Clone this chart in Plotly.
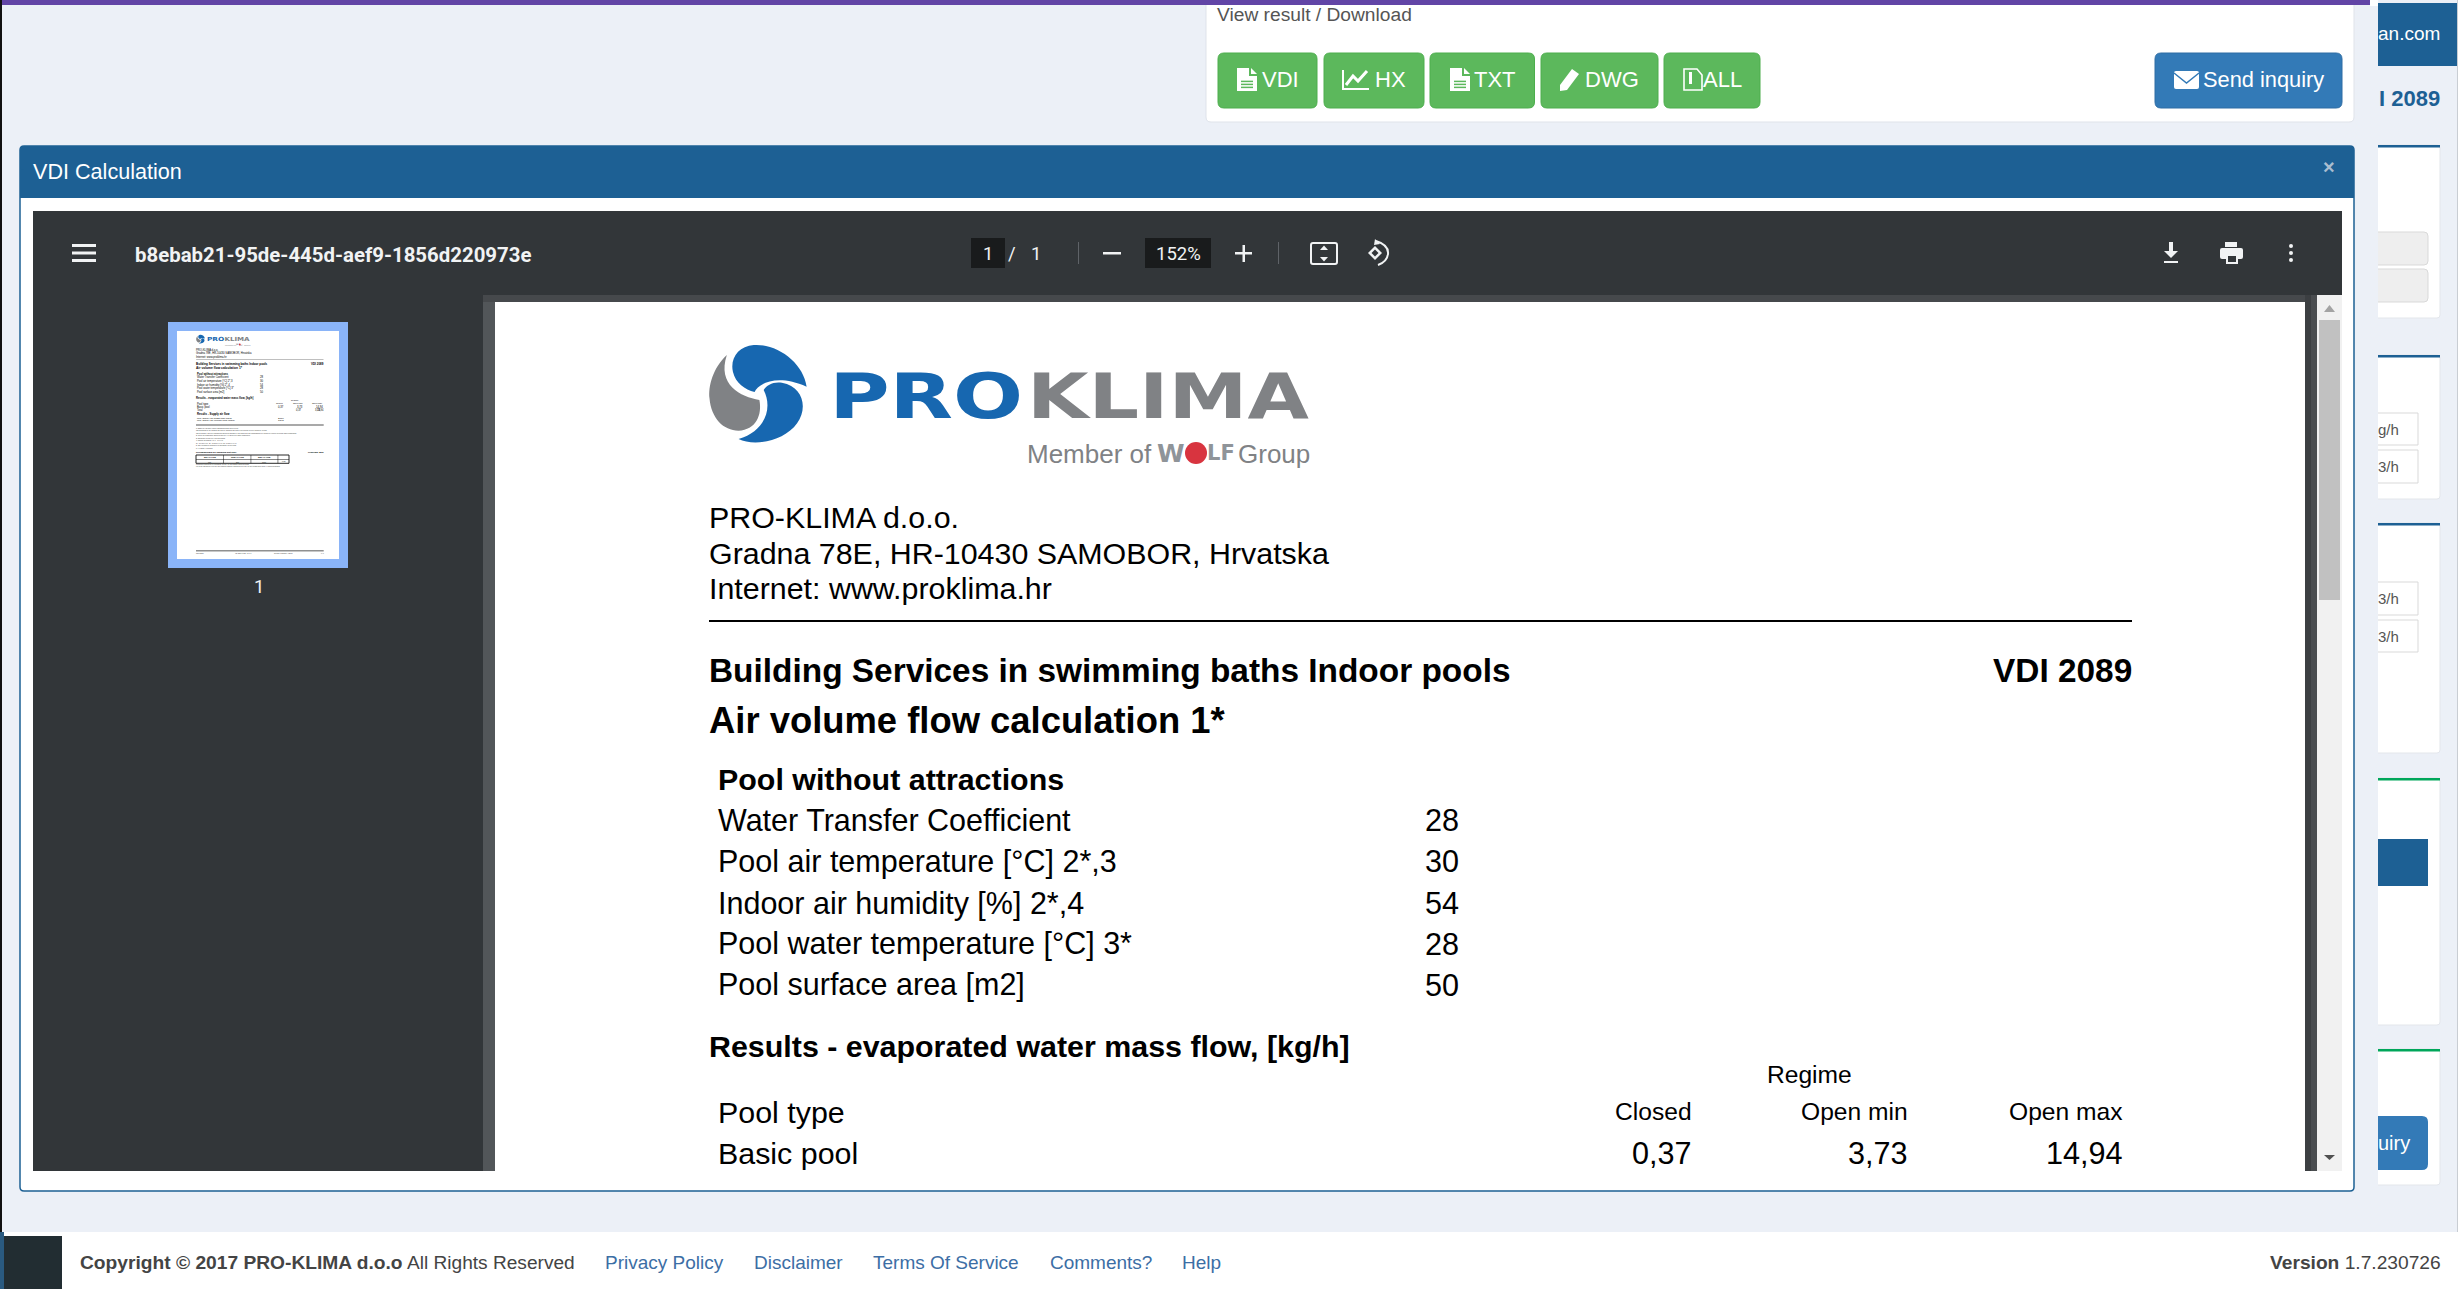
import plotly.graph_objects as go

W = 2458
H = 1289

# page texts
file_name = "b8ebab21-95de-445d-aef9-1856d220973e"
zoom_text = "152%"
button_labels = ["VDI", "HX", "TXT", "DWG", "ALL"]
footer_links = ["Privacy Policy", "Disclaimer", "Terms Of Service", "Comments?", "Help"]
address_lines = ["PRO-KLIMA d.o.o.", "Gradna 78E, HR-10430 SAMOBOR, Hrvatska", "Internet: www.proklima.hr"]

# calculation sheet values
pool_labels = ["Water Transfer Coefficient", "Pool air temperature [°C] 2*,3", "Indoor air humidity [%] 2*,4",
               "Pool water temperature [°C] 3*", "Pool surface area [m2]"]
pool_values = ["28", "30", "54", "28", "50"]
regime_names = ["Closed", "Open min", "Open max"]
basic_pool = ["0,37", "3,73", "14,94"]
total_pool = ["0,37", "3,73", "14,94"]
supply_labels = ["Min. supply air mass flow [kg/h]", "Min. supply air volume flow [m3/h]"]
supply_values = ["2070", "1848"]
footnotes = [
    "1* Based on VDI 2089-1:2010 (Swimming baths Indoor pools)",
    "The guidelines do not consider wet and dry surfaces that need to be covered for pool operation, cooling",
    "The air humidity and pool temperature should be adjusted to the values that are recommended for operation of indoor pools and water temperature",
    "2* Indoor air temperature should be min 2 to 4 K above pool water temperature",
    "3* Dependent on the pool type and regime",
    "4* Relative air humidity 40 % - 64 % r.h.",
    "34 °C at 28 % r.h., 30 °C and 54 % r.h., 28 °C and 64 % r.h.",
    "5* Only informative calculation for preliminary air unit sizes",
    "6* Air density 1,2 kg/m3",
]
unit_heads = ["Min Air Flow", "Nom Air Flow", "Max Air Flow"]
unit_values = ["600", "800", "1000", "0,37"]
tail_notes = [
    "Informative calculation for preliminary air unit, for the design contact Proklima",
    "For exact calculation of air unit and complete humidity calculation for every air unit please send inquiry to sales department",
]
page_foot = ["12/06/2023", "VDI 2089-1 Man. ver 1.7", "Created: 1/15/2024, 6:25:36", "1 / 1"]

FONT = "Liberation Sans"
BLUE = "#1d6094"
BTN_GREEN = "#5cb85c"
BTN_BLUE = "#337ab7"
BG = "#ecf0f7"
DARK = "#323639"
TXT = "#f1f3f4"

shapes = []
annos = []


def rect(x0, y0, x1, y1, fill, line=None, lw=0):
    shapes.append(dict(type="rect", xref="x", yref="y", x0=x0, y0=y0, x1=x1, y1=y1, fillcolor=fill,
                       line=dict(color=line or fill, width=lw)))


def path(d, fill="rgba(0,0,0,0)", line=None, lw=0):
    shapes.append(dict(type="path", xref="x", yref="y", path=d, fillcolor=fill,
                       line=dict(color=line or fill, width=lw)))


def rrect(x0, y0, x1, y1, r, fill, line=None, lw=0):
    d = (f"M{x0+r},{y0} L{x1-r},{y0} Q{x1},{y0} {x1},{y0+r} L{x1},{y1-r} Q{x1},{y1} {x1-r},{y1} "
         f"L{x0+r},{y1} Q{x0},{y1} {x0},{y1-r} L{x0},{y0+r} Q{x0},{y0} {x0+r},{y0} Z")
    path(d, fill, line, lw)


def text(x, y, s, size, color="#000000", bold=False, anchor="left", font=FONT):
    annos.append(dict(x=x, y=y, xref="x", yref="y", text=f"<b>{s}</b>" if bold else s, showarrow=False,
                      xanchor=anchor, yanchor="middle", borderpad=0, borderwidth=0,
                      font=dict(family=font, size=size, color=color)))


def poly(points, fill):
    path("M" + " L".join(f"{x},{y}" for x, y in points) + " Z", fill)


def draw_logo(tx, ty, k):
    # swirl and wordmark, traced in crop coordinates of the logo
    def p(zx, zy):
        return f"{tx(680 + zx / 2.306):.2f},{ty(330 + zy / 3):.2f}"

    path(f"M{p(292,170)} C{p(285,100)} {p(225,40)} {p(170,45)} C{p(135,48)} {p(115,85)} {p(122,125)} "
         f"C{p(128,160)} {p(150,178)} {p(172,186)} C{p(180,160)} {p(225,130)} {p(292,170)} Z", "#1767b0")
    path(f"M{p(108,75)} C{p(75,115)} {p(65,170)} {p(68,205)} C{p(72,265)} {p(100,302)} {p(135,302)} "
         f"C{p(175,300)} {p(190,255)} {p(183,210)} C{p(140,200)} {p(85,165)} {p(108,75)} Z", "#808285")
    path(f"M{p(135,327)} C{p(170,350)} {p(240,335)} {p(270,280)} C{p(295,235)} {p(285,170)} {p(235,158)} "
         f"C{p(215,154)} {p(200,165)} {p(193,180)} C{p(215,235)} {p(195,305)} {p(135,327)} Z", "#1767b0")
    # PRO and KLIMA get stretched to the wide logo letters in the page script below
    text(tx(926), ty(396), "PRO", 63 * k, "#1767b0", True, "center", "DejaVu Sans")
    text(tx(1168), ty(396), "KLIMA", 63 * k, "#808285", True, "center", "DejaVu Sans")
    text(tx(1027), ty(454), "Member of", 26 * k, "#808285")
    text(tx(1238), ty(454), "Group", 26 * k, "#808285")
    text(tx(1171), ty(453), "W", 25 * k, "#8f9499", True, "center", "DejaVu Sans")
    text(tx(1221), ty(453), "LF", 21 * k, "#8f9499", True, "center", "DejaVu Sans")
    cx, cy, r = tx(1196), ty(453), 11 * k
    shapes.append(dict(type="circle", xref="x", yref="y", x0=cx - r, x1=cx + r, y0=cy - r, y1=cy + r,
                       fillcolor="#d8343f", line=dict(width=0)))


def draw_sheet(tx, ty, k):
    draw_logo(tx, ty, k)
    for i, s in enumerate(address_lines):
        text(tx(709), ty(517 + i * 35.5), s, 30.4 * k)
    rect(tx(709), ty(620), tx(2132), ty(622), "#000000")
    text(tx(709), ty(670), "Building Services in swimming baths Indoor pools", 33.4 * k, bold=True)
    text(tx(2132), ty(670), "VDI 2089", 33.4 * k, bold=True, anchor="right")
    text(tx(709), ty(720), "Air volume flow calculation 1*", 36.4 * k, bold=True)
    text(tx(718), ty(779), "Pool without attractions", 30.4 * k, bold=True)
    for i, (lab, val) in enumerate(zip(pool_labels, pool_values)):
        row_y = 820 + i * 41.2 + (0.6 if i == 2 else 0)
        text(tx(718), ty(row_y), lab, 30.5 * k)
        text(tx(1425), ty(row_y), val, 30.6 * k)
    text(tx(709), ty(1046), "Results - evaporated water mass flow, [kg/h]", 30.4 * k, bold=True)
    text(tx(1809), ty(1074), "Regime", 24.6 * k, anchor="center")
    text(tx(718), ty(1112), "Pool type", 30.4 * k)
    text(tx(718), ty(1153), "Basic pool", 30.4 * k)
    for name, val, right in zip(regime_names, basic_pool, [1692, 1908, 2123]):
        text(tx(right), ty(1111.5), name, 24.6 * k, anchor="right")
        text(tx(right), ty(1153), val, 30.6 * k, anchor="right")


def file_icon(x0, y0, x1, y1, fill):
    # page with folded corner and text lines
    fold = (x1 - x0) * 0.4
    poly([(x0, y0), (x1 - fold, y0), (x1 - fold, y0 + fold), (x1, y0 + fold), (x1, y1), (x0, y1)], fill)
    poly([(x1 - fold + 2, y0), (x1, y0 + fold - 2), (x1 - fold + 2, y0 + fold - 2)], fill)
    for f in (0.55, 0.68, 0.81):
        yy = y0 + (y1 - y0) * f
        rect(x0 + 4, yy, x1 - 4, yy + 1.5, BTN_GREEN)


# page background and outer chrome
rect(0, 0, W, H, BG)
rect(0, 0, 2, 1235, "#111111")
rect(2370, 0, 2378, 6, "#ffffff")

# top result card
rrect(1206, -6, 2354, 122, 5, "#ffffff", "#dfe3ea", 1)
rect(2, 0, 2370, 5, "#6245a6")
text(1217, 14, "View result / Download", 19.2, "#555555")
for lab, (x0, x1), tx0 in zip(button_labels, [(1218, 1317), (1324, 1424), (1430, 1534.5), (1541, 1658), (1664, 1760)],
                              [1262, 1375, 1474, 1585, 1703]):
    rrect(x0, 53, x1, 108, 6, BTN_GREEN, "#4cae4c", 1)
    text(tx0, 79, lab, 22, "#ffffff")
rrect(2155, 53, 2342, 108, 6, BTN_BLUE, "#2e6da4", 1)
text(2203, 79, "Send inquiry", 21.8, "#ffffff")

file_icon(1237, 68, 1257, 91, "#ffffff")
file_icon(1450, 68, 1470, 91, "#ffffff")
# chart icon
path("M1343,70 L1343,89 L1369,89", line="#ffffff", lw=2)
path("M1346,85 L1353,76 L1358,81 L1367,71", line="#ffffff", lw=3)
# pencil icon
poly([(1572, 69), (1579, 74), (1567, 90), (1560, 91), (1560, 85)], "#ffffff")
# archive icon
path("M1684,69 L1697,69 L1702,75 L1702,90 L1684,90 Z", line="#ffffff", lw=1.6)
rect(1689, 72, 1692, 84, "#ffffff")
# envelope icon
rrect(2174, 71, 2199, 89, 2, "#ffffff")
path("M2174,73 L2186.5,83 L2199,73", line=BTN_BLUE, lw=1.5)

# right hand column, cut by the modal overlay
rect(2378, 3, W, 66, BLUE)
text(2440, 33, "an.com", 19, "#ffffff", anchor="right")
text(2440, 98, "I 2089", 22, BLUE, True, "right")
for y0, y1, top in [(145, 318, BLUE), (355, 499, BLUE), (523, 753, BLUE), (778, 1025, "#00a65a"), (1049, 1185, "#00a65a")]:
    rrect(2370, y0, 2440, y1, 3, "#ffffff", "#e3e6eb", 1)
    rect(2370, y0, 2440, y0 + 2.5, top)
for y0, y1 in [(232, 265), (269, 302)]:
    rrect(2360, y0, 2428, y1, 4, "#eeeeee", "#d9d9d9", 1)
for (y0, y1), unit in zip([(413, 445), (450, 483), (582, 615), (620, 652)], ["g/h", "3/h", "3/h", "3/h"]):
    rect(2360, y0, 2418, y1, "#ffffff", "#d9d9d9", 1)
    text(2378, (y0 + y1) / 2, unit, 15, "#555555")
rect(2360, 839, 2428, 886, BLUE)
rrect(2350, 1116, 2428, 1170, 6, BTN_BLUE)
text(2378, 1143, "uiry", 20, "#ffffff")
# strip that the overlay leaves over the column
rect(2354, 130, 2378, 1232, BG)
rect(2457, 0, W, H, "#c9cdd3")

# modal
rrect(20, 146, 2354, 1191, 4, "#ffffff", BLUE, 1.5)
rect(20, 150, 2354, 198, BLUE)
rrect(20, 146, 2354, 170, 4, BLUE)
text(33, 171, "VDI Calculation", 21.6, "#ffffff")
text(2329, 167, "×", 20, "#a9bdd0", True, "center")

# pdf viewer
rect(33, 211, 2342, 1171, DARK)
rect(483, 295, 2317, 1171, "#525659")
rect(483, 295, 2317, 302, "#46494c")
rect(2305, 295, 2311, 1171, "#3c3f42")
rect(2311, 295, 2317, 1171, "#4a4d50")
rect(495, 302, 2305, 1171, "#ffffff")
rect(2317, 295, 2342, 1171, "#f1f1f1")
rect(2319, 320, 2340, 600, "#c1c1c1")
poly([(2324, 312), (2329.5, 305), (2335, 312)], "#a3a3a3")
poly([(2324, 1155), (2329.5, 1160), (2335, 1155)], "#505050")

# toolbar
for y in (244, 251.5, 259):
    rect(72, y, 96, y + 3, TXT)
text(135, 255, file_name, 20.4, TXT, font="Roboto", bold=True)
rect(971, 238, 1005, 268, "#191b1c")
text(988, 254, "1", 18.5, TXT, anchor="center", font="Roboto")
text(1012, 254, "/", 18.5, TXT, anchor="center", font="Roboto")
text(1036, 254, "1", 18.5, TXT, anchor="center", font="Roboto")
rect(1078, 242, 1079, 264, "#5f6368")
rect(1103, 252, 1121, 254.5, TXT)
rect(1145, 238, 1211, 268, "#191b1c")
text(1178, 254, zoom_text, 18.5, TXT, anchor="center", font="Roboto")
rect(1235, 252, 1252, 254.5, TXT)
rect(1242.5, 245, 1245, 262, TXT)
rect(1278, 242, 1279, 264, "#5f6368")
rrect(1311, 243, 1337, 264, 2, "rgba(0,0,0,0)", TXT, 2)
poly([(1320, 250), (1324, 245.5), (1328, 250)], TXT)
poly([(1320, 257), (1324, 261.5), (1328, 257)], TXT)
poly([(1375, 246), (1382, 253), (1375, 260), (1368, 253)], TXT)
poly([(1375, 249.5), (1378.5, 253), (1375, 256.5), (1371.5, 253)], DARK)
path("M1376,241 Q1389,245 1388,254 Q1387,262 1378,265", line=TXT, lw=2)
poly([(1375, 239), (1380, 244), (1374, 245)], TXT)
# download, print, more
rect(2169, 242, 2173, 252, TXT)
poly([(2164, 251), (2178, 251), (2171, 258)], TXT)
rect(2164, 261, 2178, 263, TXT)
rect(2225, 242, 2237, 247, TXT)
rrect(2220, 248, 2243, 259, 2, TXT)
rect(2226, 254, 2238, 264, TXT)
rect(2228, 256, 2236, 262, DARK)
for y in (246, 253, 260):
    shapes.append(dict(type="circle", xref="x", yref="y", x0=2289, x1=2293, y0=y - 2, y1=y + 2,
                       fillcolor=TXT, line=dict(width=0)))

# main page of the sheet
draw_sheet(lambda x: x, lambda y: y, 1)

# thumbnail page
rect(168, 322, 348, 568, "#8ab4f8")
rect(177, 331, 339, 559, "#ffffff")
k = 0.0895
draw_sheet(lambda x: 177 + (x - 495) * k, lambda y: 331 + (y - 302) * k, k)
text(196.5, 409.7, "Total", 2.6)
for val, right in zip(total_pool, [301.8, 321.2, 323.5]):
    text(right, 409.7, val, 2.6, anchor="right")
text(197, 414, "Results - Supply air flow", 2.8, bold=True)
for i, (lab, val) in enumerate(zip(supply_labels, supply_values)):
    text(197, 418 + i * 2.8, lab, 2.5)
    text(277.5, 418 + i * 2.8, val, 2.5)
rect(196, 424.4, 323.7, 425.6, "#555555")
for y, note in zip([427.7, 430, 432.7, 434.7, 438, 440, 443, 445.3, 448], footnotes):
    text(196, y, note, 1.55, "#333333")
text(196, 452, "Recommended air handling unit size:", 2.3, bold=True)
text(323.5, 452, "Proklima 4800", 2.3, bold=True, anchor="right")
rect(196, 455, 289, 463.3, "rgba(0,0,0,0)", "#111111", 0.9)
rect(196, 459.3, 289, 459.8, "#111111")
for x in (223.3, 250.7, 277.7):
    rect(x, 455, x + 0.5, 463.3, "#111111")
for lab, val, x in zip(unit_heads, unit_values, (209.6, 237, 264.2)):
    text(x, 457.2, lab, 2, bold=True, anchor="center")
    text(x, 461.5, val, 1.8, anchor="center")
text(283.5, 461.5, unit_values[3], 1.8, anchor="center")
for y, note in zip([464.5, 466.3], tail_notes):
    text(196, y, note, 1.55, "#333333")
rect(196, 550.4, 323.7, 551.2, "#222222")
for lab, x, anc in zip(page_foot, (196, 235, 273.5, 323.5), ("left", "left", "left", "right")):
    text(x, 553, lab, 1.5, "#333333", anchor=anc)
text(258.5, 587, "1", 18.5, TXT, anchor="center", font="Roboto")

# footer
rect(0, 1232, W, H, "#ffffff")
rect(0, 1232, 4, H, "#2a5a80")
rect(4, 1236, 62, H, "#222d32")
text(80, 1262, "Copyright © 2017 PRO-KLIMA d.o.o", 19.2, "#444444", True)
text(407, 1262, "All Rights Reserved", 19.1, "#444444")
for lab, x in zip(footer_links, [605, 754, 873, 1050, 1182]):
    text(x, 1262, lab, 19, "#3c6ea5")
text(2441, 1262, "<b>Version</b> 1.7.230726", 19.2, "#444444", anchor="right")

fig = go.Figure()
fig.update_layout(
    width=W, height=H, margin=dict(l=0, r=0, t=0, b=0),
    paper_bgcolor=BG, plot_bgcolor=BG, showlegend=False,
    xaxis=dict(range=[0, W], visible=False, fixedrange=True),
    yaxis=dict(range=[H, 0], visible=False, fixedrange=True),
    shapes=shapes, annotations=annos,
)
stretch = """
document.body.style.margin='0';
document.documentElement.style.overflow='hidden';
setTimeout(function () {
  var gd = document.getElementById('{plot_id}');
  gd.querySelectorAll('text.annotation-text').forEach(function (t) {
    var u = t.getAttribute('data-unformatted');
    var w = u === '<b>PRO</b>' ? 194 : (u === '<b>KLIMA</b>' ? 282 : 0);
    if (w) {
      t.setAttribute('textLength', w * parseFloat(t.style.fontSize) / 63);
      t.setAttribute('lengthAdjust', 'spacingAndGlyphs');
    }
  });
}, 30);
"""
fig.write_html("out.html", config=dict(displayModeBar=False), post_script=stretch)
